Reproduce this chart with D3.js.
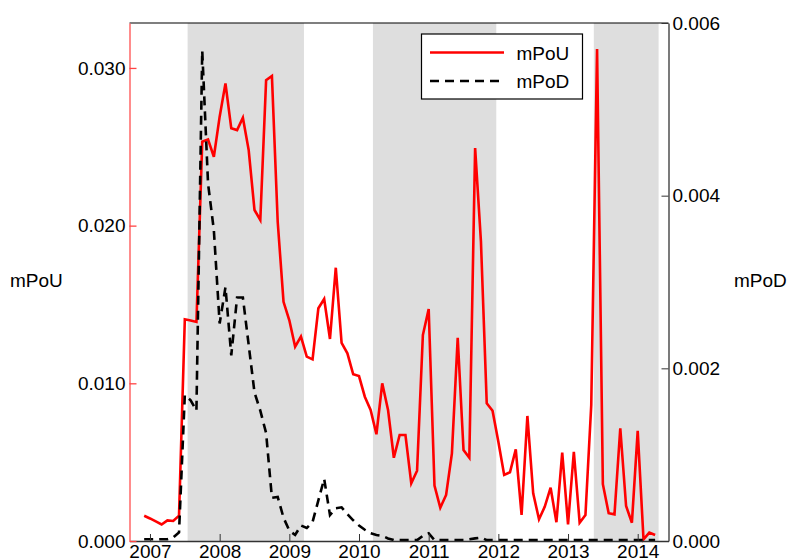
<!DOCTYPE html>
<html lang="en">
    <head>
        <meta charset="utf-8">
        <title>mPoU and mPoD</title>
        <script src="https://cdn.jsdelivr.net/npm/d3@7"></script>
        <style type="text/css">
            body { margin: 0; background: #fff; }
            text { font-family: "Liberation Sans", Arial, sans-serif; }
        </style>
    </head>
    <body>
        <script type="text/javascript">

            //Width and height
            var w = 787;
            var h = 558;

            //Data (monthly, first point is Dec 2006)
            var startYear = 2006;
            var startMonth = 11;   // 0-based, so 11 = December

            var mPoU = [
                0.00160, 0.00143, 0.00124, 0.00105, 0.00131, 0.00127, 0.00160, 0.01406, 0.01398, 0.01389,
                0.02532, 0.02547, 0.02437, 0.02691, 0.02902, 0.02617, 0.02606, 0.02684, 0.02479, 0.02099,
                0.02036, 0.02923, 0.02949, 0.02023, 0.01517, 0.01400, 0.01232, 0.01296, 0.01169, 0.01152,
                0.01476, 0.01535, 0.01281, 0.01733, 0.01257, 0.01190, 0.01057, 0.01046, 0.00915, 0.00831,
                0.00677, 0.01000, 0.00831, 0.00528, 0.00672, 0.00672, 0.00366, 0.00446, 0.01306, 0.01471,
                0.00351, 0.00211, 0.00292, 0.00556, 0.01289, 0.00577, 0.00528, 0.02492, 0.01900, 0.00873,
                0.00826, 0.00630, 0.00419, 0.00436, 0.00581, 0.00165, 0.00793, 0.00302, 0.00138, 0.00218,
                0.00338, 0.00119, 0.00560, 0.00106, 0.00566, 0.00116, 0.00165, 0.00862, 0.03120, 0.00360,
                0.00176, 0.00169, 0.00715, 0.00222, 0.00116, 0.00698, 0.00010, 0.00053, 0.00038
            ];

            var mPoD = [
                0.00002, 0.00002, 0.00002, 0.00002, 0.00002, 0.00004, 0.00010, 0.00169, 0.00163, 0.00151,
                0.00568, 0.00414, 0.00360, 0.00252, 0.00294, 0.00215, 0.00282, 0.00282, 0.00227, 0.00172,
                0.00151, 0.00125, 0.00050, 0.00051, 0.00027, 0.00012, 0.00007, 0.00018, 0.00015, 0.00022,
                0.00047, 0.00072, 0.00030, 0.00038, 0.00039, 0.00031, 0.00024, 0.00018, 0.00013, 0.00009,
                0.00007, 0.00006, 0.00003, 0.00001, 0.00001, 0.00001, 0.00001, 0.00001, 0.00006, 0.00009,
                0.00001, 0.00001, 0.00001, 0.00001, 0.00001, 0.00001, 0.00002, 0.00003, 0.00004, 0.00001,
                0.00001, 0.00001, 0.00001, 0.00001, 0.00001, 0.00001, 0.00001, 0.00001, 0.00001, 0.00001,
                0.00001, 0.00001, 0.00001, 0.00001, 0.00001, 0.00001, 0.00001, 0.00001, 0.00001, 0.00001,
                0.00001, 0.00001, 0.00001, 0.00001, 0.00001, 0.00001, 0.00001, 0.00001, 0.00001
            ];

            //shaded periods, in decimal years
            var bands = [
                [2007.54, 2009.21],
                [2010.20, 2011.97],
                [2013.37, 2014.30]
            ];

            var yearTicks = [2007, 2008, 2009, 2010, 2011, 2012, 2013, 2014];
            var leftTicks = [0, 0.01, 0.02, 0.03];
            var rightTicks = [0, 0.002, 0.004, 0.006];

            //turn month index into a decimal year
            function monthToYear(i) {
                return startYear + (startMonth + i) / 12;
            }

            //plot box (not called "top" - that one belongs to window)
            var pLeft = 129.5, pRight = 668.5, pTop = 23, pBottom = 541;

            var x = d3.scaleLinear().domain([2006.706, 2014.442]).range([pLeft, pRight]);
            var yL = d3.scaleLinear().domain([0, 0.03285]).range([pBottom, pTop]);
            var yR = d3.scaleLinear().domain([0, 0.006]).range([pBottom, pTop]);

            var svg = d3.select("body")
                        .append("svg")
                        .attr("width", w)
                        .attr("height", h);

            //gray bands
            svg.selectAll("rect.band")
                .data(bands)
                .enter()
                .append("rect")
                .attr("class", "band")
                .attr("x", function(d) { return x(d[0]); })
                .attr("width", function(d) { return x(d[1]) - x(d[0]); })
                .attr("y", pTop)
                .attr("height", pBottom - pTop)
                .attr("fill", "#dedede");

            var lineU = d3.line()
                .x(function(d, i) { return x(monthToYear(i)); })
                .y(function(d) { return yL(d); });

            var lineD = d3.line()
                .x(function(d, i) { return x(monthToYear(i)); })
                .y(function(d) { return yR(d); });

            svg.append("path")
                .datum(mPoU)
                .attr("d", lineU)
                .attr("fill", "none")
                .attr("stroke", "#ff0000")
                .attr("stroke-width", 2.6)
                .attr("stroke-linejoin", "miter");

            svg.append("path")
                .datum(mPoD)
                .attr("d", lineD)
                .attr("fill", "none")
                .attr("stroke", "#000")
                .attr("stroke-width", 2.6)
                .attr("stroke-dasharray", "9,6");

            //top border
            svg.append("line")
                .attr("x1", pLeft).attr("x2", pRight)
                .attr("y1", pTop).attr("y2", pTop)
                .attr("stroke", "#000")
                .attr("stroke-width", 1.2);

            //axes, ticks pointing inward
            var bottomAxis = svg.append("g")
                .attr("transform", "translate(0," + pBottom + ")")
                .call(d3.axisBottom(x).tickValues(yearTicks).tickFormat(d3.format("d"))
                        .tickSizeInner(-7).tickSizeOuter(0).tickPadding(3));
            bottomAxis.select(".domain").attr("stroke", "#333").attr("stroke-width", 1.3);
            bottomAxis.selectAll(".tick line").attr("stroke", "#333");

            var leftAxis = svg.append("g")
                .attr("transform", "translate(" + pLeft + ",0)")
                .call(d3.axisLeft(yL).tickValues(leftTicks).tickFormat(d3.format(".3f"))
                        .tickSizeInner(-7).tickSizeOuter(0).tickPadding(4));
            leftAxis.select(".domain").attr("stroke", "#ff6666").attr("stroke-width", 1.5);
            leftAxis.selectAll(".tick line").attr("stroke", "#ff4444").attr("stroke-width", 1.3);

            var rightAxis = svg.append("g")
                .attr("transform", "translate(" + pRight + ",0)")
                .call(d3.axisRight(yR).tickValues(rightTicks).tickFormat(d3.format(".3f"))
                        .tickSizeInner(-7).tickSizeOuter(0).tickPadding(4));
            rightAxis.select(".domain").attr("stroke", "#333").attr("stroke-width", 1.3);
            rightAxis.selectAll(".tick line").attr("stroke", "#333");

            svg.selectAll(".tick text")
                .attr("font-size", 19)
                .attr("font-family", "Liberation Sans, Arial, sans-serif")
                .attr("fill", "#000");

            //axis titles
            svg.append("text")
                .text("mPoU")
                .attr("x", 10)
                .attr("y", 287)
                .attr("font-size", 19)
                .attr("fill", "#000");

            svg.append("text")
                .text("mPoD")
                .attr("x", 734)
                .attr("y", 287)
                .attr("font-size", 19)
                .attr("fill", "#000");

            //legend
            var legend = svg.append("g");
            legend.append("rect")
                .attr("x", 421.5).attr("y", 34)
                .attr("width", 161).attr("height", 65)
                .attr("fill", "#fff")
                .attr("stroke", "#000")
                .attr("stroke-width", 1.2);

            var legendItems = [
                { name: "mPoU", color: "#ff0000", dash: null },
                { name: "mPoD", color: "#000", dash: "9,6" }
            ];

            legend.selectAll("line.key")
                .data(legendItems)
                .enter()
                .append("line")
                .attr("class", "key")
                .attr("x1", 430).attr("x2", 504)
                .attr("y1", function(d, i) { return 52.5 + i * 28.5; })
                .attr("y2", function(d, i) { return 52.5 + i * 28.5; })
                .attr("stroke", function(d) { return d.color; })
                .attr("stroke-width", 2.6)
                .attr("stroke-dasharray", function(d) { return d.dash; });

            legend.selectAll("text.key")
                .data(legendItems)
                .enter()
                .append("text")
                .attr("class", "key")
                .text(function(d) { return d.name; })
                .attr("x", 516.5)
                .attr("y", function(d, i) { return 59.5 + i * 28.5; })
                .attr("font-size", 19)
                .attr("fill", "#000");
        </script>
    </body>
</html>
